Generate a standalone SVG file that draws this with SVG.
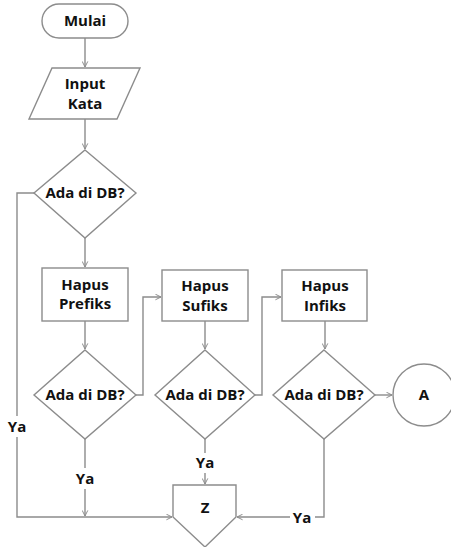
<svg xmlns="http://www.w3.org/2000/svg" width="451" height="547" viewBox="0 0 451 547">
<style>
.s{fill:#fff;stroke:#8c8c8c;stroke-width:1.4}
.c{fill:none;stroke:#8c8c8c;stroke-width:1.4}
.t{font-family:"Open Sans","Liberation Sans",sans-serif;font-weight:bold;font-size:15px;fill:#111;text-anchor:middle}
</style>
<defs>
<marker id="ah" viewBox="0 0 10 10" refX="9" refY="5" markerWidth="7" markerHeight="7" orient="auto" markerUnits="userSpaceOnUse">
<path d="M1,1 L9,5 L1,9" fill="none" stroke="#8c8c8c" stroke-width="1.4"/>
</marker>
</defs>
<rect width="451" height="547" fill="#fff"/>
<g id="connectors">
<path class="c" d="M85,38 V67" marker-end="url(#ah)"/>
<path class="c" d="M85,119 V149" marker-end="url(#ah)"/>
<path class="c" d="M85,238 V267" marker-end="url(#ah)"/>
<path class="c" d="M85,321 V349" marker-end="url(#ah)"/>
<path class="c" d="M34,193 H17 V416 M17,437 V517 H172" marker-end="url(#ah)"/>
<path class="c" d="M85,439 V468 M85,489 V516" marker-end="url(#ah)"/>
<path class="c" d="M136,395 H143 V297 H161" marker-end="url(#ah)"/>
<path class="c" d="M205,321 V349" marker-end="url(#ah)"/>
<path class="c" d="M205,439 V453 M205,473 V484" marker-end="url(#ah)"/>
<path class="c" d="M255,395 H262 V297 H281" marker-end="url(#ah)"/>
<path class="c" d="M325,321 V349" marker-end="url(#ah)"/>
<path class="c" d="M375,395 H392" marker-end="url(#ah)"/>
<path class="c" d="M324,439 V517 H315 M290,517 H237" marker-end="url(#ah)"/>
<text class="t" x="17" y="432">Ya</text>
<text class="t" x="85" y="484">Ya</text>
<text class="t" x="205" y="468">Ya</text>
<text class="t" x="302" y="523">Ya</text>
</g>
<g id="mulai">
<rect class="s" x="42" y="4" width="86" height="34" rx="17"/>
<text class="t" x="85" y="26">Mulai</text>
</g>
<g id="input">
<polygon class="s" points="52,68 140,68 117,119 29,119"/>
<text class="t" x="85" y="89">Input</text>
<text class="t" x="85" y="109">Kata</text>
</g>
<g id="cek1">
<polygon class="s" points="85,150 136,193 85,238 34,193"/>
<text class="t" x="85" y="198">Ada di DB?</text>
</g>
<g id="prefiks">
<rect class="s" x="42" y="268" width="86" height="53"/>
<text class="t" x="85" y="290">Hapus</text>
<text class="t" x="85" y="309">Prefiks</text>
</g>
<g id="cek2">
<polygon class="s" points="85,350 136,395 85,439 34,395"/>
<text class="t" x="85" y="400">Ada di DB?</text>
</g>
<g id="sufiks">
<rect class="s" x="162" y="270" width="86" height="51"/>
<text class="t" x="205" y="291">Hapus</text>
<text class="t" x="205" y="311">Sufiks</text>
</g>
<g id="cek3">
<polygon class="s" points="205,350 255,395 205,439 155,395"/>
<text class="t" x="205" y="400">Ada di DB?</text>
</g>
<g id="infiks">
<rect class="s" x="282" y="270" width="85" height="51"/>
<text class="t" x="325" y="291">Hapus</text>
<text class="t" x="325" y="311">Infiks</text>
</g>
<g id="cek4">
<polygon class="s" points="324,350 375,395 324,439 273,395"/>
<text class="t" x="324" y="400">Ada di DB?</text>
</g>
<g id="a">
<circle class="s" cx="424" cy="395" r="31"/>
<text class="t" x="424" y="400">A</text>
</g>
<g id="z">
<polygon class="s" points="173,485 236,485 236,517 205,547 173,517"/>
<text class="t" x="205" y="513">Z</text>
</g>
</svg>
